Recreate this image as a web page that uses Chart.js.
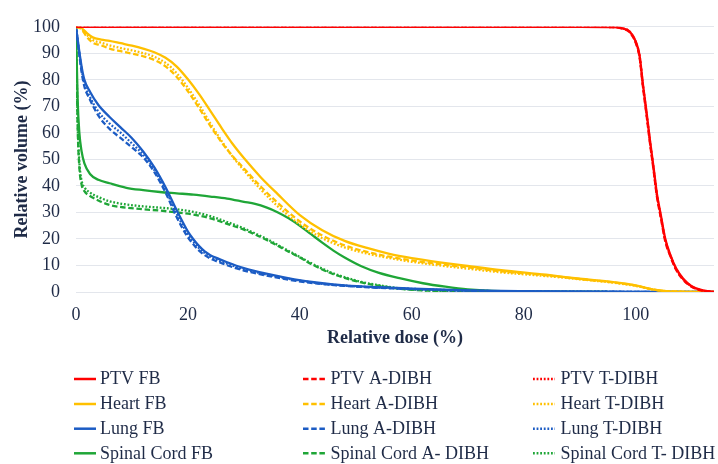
<!DOCTYPE html>
<html>
<head>
<meta charset="utf-8">
<script src="https://cdn.jsdelivr.net/npm/chart.js@4.4.0/dist/chart.umd.min.js"></script>
<style>
  html, body { margin: 0; padding: 0; background: #fff; }
  #wrap { width: 718px; height: 464px; position: relative; }
</style>
</head>
<body>
<div id="wrap"><canvas id="dvh"></canvas></div>
<script>
'use strict';

// ---- Data ----
const X_TICKS = [0, 20, 40, 60, 80, 100];
const Y_TICKS = [0, 10, 20, 30, 40, 50, 60, 70, 80, 90, 100];

const PTV_DOSE = [0, 90, 96, 97.5, 98.9, 100.1, 100.7, 101.3, 101.9, 102.6, 103.2, 103.8, 104.5, 105.3, 106.2, 107.2, 108.5, 110, 112, 114];
const PTV_FB   = [100, 100, 99.9, 99.5, 98.3, 94, 89.2, 78.3, 68.6, 56.5, 47, 37, 29, 20, 14, 9, 5, 2.2, 0.6, 0];
const PTV_A    = [100, 100, 99.9, 99.4, 98, 93.5, 88.5, 77.5, 67.5, 55.5, 46, 36, 28, 19, 13.5, 8.5, 4.6, 2, 0.5, 0];
const PTV_T    = [100, 100, 99.9, 99.5, 98.2, 93.8, 89, 78, 68, 56, 46.5, 36.5, 28.5, 19.5, 13.8, 8.8, 4.8, 2.1, 0.6, 0];

const HEART_DOSE = [0, 1, 2, 3, 4.5, 6, 8, 10, 12, 14, 16, 18, 20, 22, 24, 26, 28, 30, 33, 36, 40, 44, 48, 52, 56, 60, 65, 70, 76, 84, 90, 96, 100, 103, 105.5, 108, 114];
const HEART_FB = [100, 99.5, 97.5, 96, 95.2, 94.7, 93.8, 92.9, 91.8, 90.4, 88.3, 85, 80.2, 74.6, 68.3, 61.9, 55.8, 50.5, 43.3, 37, 29, 23.3, 19.3, 16.6, 14.4, 12.8, 11.2, 9.8, 8.2, 6.5, 5, 3.7, 2.5, 1, 0.3, 0.1, 0];
const HEART_A  = [100, 99, 96, 94, 93, 91.8, 90.8, 89.9, 88.9, 87.5, 85.1, 81.1, 75.7, 69.3, 62.6, 56.5, 51.2, 46.6, 39.8, 33.7, 26.6, 21.3, 17.6, 15.1, 13.3, 11.9, 10.5, 9.3, 7.8, 6.3, 4.9, 3.6, 2.4, 1, 0.3, 0.1, 0];
const HEART_T  = [100, 99.3, 96.8, 95, 94, 93, 92, 91.1, 90.1, 88.7, 86.4, 82.5, 77, 70.6, 63.6, 57, 51, 45.9, 38.7, 32.4, 25.5, 20.3, 16.8, 14.5, 12.8, 11.4, 10, 8.8, 7.4, 6, 4.8, 3.5, 2.3, 1, 0.3, 0.1, 0];

const LUNG_DOSE = [0, 0.5, 1, 1.5, 2.5, 4, 6, 8, 10, 12, 14, 16, 18, 20, 21, 22, 23, 24, 25.5, 27, 30, 34, 39, 44, 48, 54, 60, 70, 80, 95, 114];
const LUNG_FB   = [100, 92, 85, 80, 75.5, 70.5, 66, 62, 58, 53, 47, 39.5, 30.8, 22.8, 19.8, 17.3, 15.3, 13.9, 12.5, 11.2, 9, 6.9, 4.8, 3.3, 2.5, 1.8, 1.3, 0.6, 0.3, 0.1, 0];
const LUNG_A    = [100, 91, 83, 77.5, 72.5, 66.5, 61.5, 58, 54.5, 50.8, 45.2, 37.5, 28.2, 20.6, 17.9, 15.6, 13.9, 12.6, 11.3, 10.1, 8.1, 6.2, 4.3, 3, 2.3, 1.6, 1.1, 0.5, 0.25, 0.1, 0];
const LUNG_T    = [100, 91.5, 84, 78.5, 73.5, 68, 63.5, 60, 56, 51.8, 46, 38.5, 29.5, 21.7, 18.9, 16.5, 14.7, 13.3, 11.9, 10.7, 8.6, 6.6, 4.6, 3.1, 2.4, 1.7, 1.2, 0.5, 0.25, 0.1, 0];

const CORD_DOSE = [0, 0.3, 0.6, 1, 1.5, 2.5, 4, 6, 9, 12, 15, 18, 21, 24, 27, 30, 32, 34, 36, 38, 40, 42, 44, 46, 48, 51, 54, 58, 62, 66, 70, 76, 85, 95];
const CORD_FB   = [100, 72, 60, 53, 48.5, 44.5, 42.3, 41, 39.3, 38.4, 37.7, 37.2, 36.7, 36, 35.2, 34, 33.2, 31.9, 30.1, 27.8, 25, 21.8, 18.6, 15.6, 13, 9.7, 7.3, 5.1, 3.3, 2, 1, 0.3, 0.1, 0];
const CORD_A    = [100, 62, 47, 40.5, 38, 36.2, 34.5, 32.8, 31.8, 31.2, 30.7, 30, 29.2, 27.8, 25.7, 23.5, 21.7, 19.7, 17.5, 15.2, 13, 10.6, 8.5, 6.7, 5.3, 3.6, 2.4, 1.2, 0.6, 0.35, 0.2, 0.1, 0.05, 0];
const CORD_T    = [100, 64, 49, 42, 39.5, 37.5, 35.8, 34.2, 33, 32.3, 31.8, 31.2, 30.2, 28.6, 26.4, 24, 22.1, 20.1, 17.8, 15.5, 13.2, 10.9, 8.8, 7, 5.6, 3.8, 2.6, 1.3, 0.7, 0.4, 0.25, 0.1, 0.05, 0];

// ---- Styles ----
const TEXT = '#1f2b47';
const GRID = '#e3e6ec';
const RED = '#ff0000', GOLD = '#ffc000', BLUE = '#1c5cc4', GREEN = '#1fa637';
const DASH = [5.5, 2.7], DOT = [1.8, 1.8];
const serif = '"Liberation Serif", "Times New Roman", serif';

function pts(dose, vol) {
  return dose.map((d, i) => ({ x: d, y: vol[i] }));
}

function line(label, dose, vol, color, dash) {
  return {
    label,
    data: pts(dose, vol),
    borderColor: color,
    backgroundColor: color,
    borderWidth: 2.3,
    borderDash: dash || [],
    pointRadius: 0,
    pointHoverRadius: 0,
    fill: false,
    cubicInterpolationMode: 'monotone',
  };
}

// row-major: organ rows, FB / A-DIBH / T-DIBH columns
const datasets = [
  line('PTV FB', PTV_DOSE, PTV_FB, RED),
  line('PTV A-DIBH', PTV_DOSE, PTV_A, RED, DASH),
  line('PTV T-DIBH', PTV_DOSE, PTV_T, RED, DOT),
  line('Heart FB', HEART_DOSE, HEART_FB, GOLD),
  line('Heart A-DIBH', HEART_DOSE, HEART_A, GOLD, DASH),
  line('Heart T-DIBH', HEART_DOSE, HEART_T, GOLD, DOT),
  line('Lung FB', LUNG_DOSE, LUNG_FB, BLUE),
  line('Lung A-DIBH', LUNG_DOSE, LUNG_A, BLUE, DASH),
  line('Lung T-DIBH', LUNG_DOSE, LUNG_T, BLUE, DOT),
  line('Spinal Cord FB', CORD_DOSE, CORD_FB, GREEN),
  line('Spinal Cord A- DIBH', CORD_DOSE, CORD_A, GREEN, DASH),
  line('Spinal Cord T- DIBH', CORD_DOSE, CORD_T, GREEN, DOT),
];

// ---- Legend: 3 columns x 4 rows under the plot ----
const gridLegend = {
  id: 'gridLegend',
  afterDraw(chart) {
    const ctx = chart.ctx;
    const lineX = [74, 303, 533];
    const textX = [100, 330.5, 560.5];
    const rowY = [379, 404, 428.7, 453.3];
    chart.data.datasets.forEach((ds, i) => {
      const c = i % 3, y = rowY[Math.floor(i / 3)];
      ctx.save();
      ctx.strokeStyle = ds.borderColor;
      ctx.lineWidth = 2.5;
      ctx.setLineDash(ds.borderDash);
      ctx.beginPath();
      ctx.moveTo(lineX[c], y);
      ctx.lineTo(lineX[c] + 22, y);
      ctx.stroke();
      ctx.setLineDash([]);
      ctx.fillStyle = TEXT;
      ctx.font = '18px ' + serif;
      ctx.textBaseline = 'middle';
      ctx.fillText(ds.label, textX[c], y + 0.5);
      ctx.restore();
    });
  }
};

new Chart(document.getElementById('dvh'), {
  type: 'line',
  data: { datasets },
  plugins: [gridLegend],
  options: {
    responsive: true,
    maintainAspectRatio: false,
    animation: false,
    layout: { padding: { top: 8, right: 4, bottom: 110, left: 0 } },
    plugins: {
      legend: { display: false },
      tooltip: { enabled: false },
    },
    scales: {
      x: {
        type: 'linear',
        min: 0,
        max: 114,
        afterBuildTicks: (s) => { s.ticks = X_TICKS.map(v => ({ value: v })); },
        afterFit: (s) => { s.height = 62; },
        grid: { display: false, drawTicks: false },
        border: { display: false },
        ticks: { color: TEXT, font: { family: serif, size: 18 }, padding: 12, maxRotation: 0 },
        title: {
          display: true,
          text: 'Relative dose (%)',
          color: TEXT,
          font: { family: serif, size: 18, weight: 'bold' },
          padding: { top: 0, bottom: 5 },
        },
      },
      y: {
        min: 0,
        max: 100,
        afterBuildTicks: (s) => { s.ticks = Y_TICKS.map(v => ({ value: v })); },
        afterFit: (s) => { s.width = 76; },
        grid: { color: GRID, lineWidth: 1, drawTicks: false },
        border: { display: false },
        ticks: { color: TEXT, font: { family: serif, size: 18 }, padding: 16 },
        title: {
          display: true,
          text: 'Relative volume (%)',
          color: TEXT,
          font: { family: serif, size: 18, weight: 'bold' },
          padding: { top: 12, bottom: 0 },
        },
      },
    },
  },
});
</script>
</body>
</html>
